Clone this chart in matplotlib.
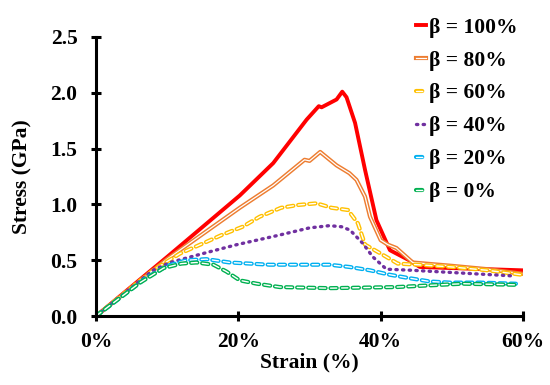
import matplotlib
matplotlib.use("Agg")
import matplotlib.pyplot as plt
import matplotlib.patheffects as pe
from matplotlib.ticker import FuncFormatter

plt.rcParams['font.family'] = ['Liberation Serif', 'DejaVu Serif']
plt.rcParams['font.weight'] = 'bold'

labels = ["β = 100%", "β = 80%", "β = 60%", "β = 40%", "β = 20%", "β = 0%"]
colors = ["#ff0000", "#ed7d31", "#ffc000", "#7030a0", "#00b0f0", "#00b050"]

x100 = [0, 0.10, 0.202, 0.249, 0.296, 0.313, 0.317, 0.338, 0.346, 0.352, 0.364, 0.378, 0.394, 0.413, 0.44, 0.455, 0.50, 0.55, 0.598]
y100 = [0, 0.53, 1.08, 1.37, 1.76, 1.88, 1.87, 1.94, 2.01, 1.96, 1.73, 1.31, 0.86, 0.59, 0.50, 0.44, 0.43, 0.42, 0.41]

x80 = [0, 0.10, 0.202, 0.249, 0.293, 0.300, 0.315, 0.338, 0.356, 0.366, 0.378, 0.385, 0.40, 0.41, 0.422, 0.445, 0.50, 0.55, 0.598]
y80 = [0, 0.51, 0.97, 1.17, 1.40, 1.39, 1.47, 1.35, 1.28, 1.22, 1.07, 0.89, 0.68, 0.64, 0.61, 0.48, 0.45, 0.42, 0.38]

x60 = [0, 0.08, 0.118, 0.15, 0.178, 0.206, 0.23, 0.26, 0.284, 0.31, 0.331, 0.354, 0.368, 0.378, 0.40, 0.424, 0.452, 0.50, 0.55, 0.598]
y60 = [0, 0.41, 0.56, 0.65, 0.73, 0.80, 0.89, 0.97, 0.995, 1.01, 0.97, 0.95, 0.83, 0.64, 0.56, 0.47, 0.46, 0.44, 0.41, 0.37]

x40 = [0, 0.08, 0.104, 0.156, 0.198, 0.254, 0.30, 0.328, 0.345, 0.357, 0.375, 0.389, 0.408, 0.445, 0.515, 0.585]
y40 = [0, 0.41, 0.48, 0.57, 0.64, 0.72, 0.79, 0.81, 0.80, 0.77, 0.65, 0.53, 0.42, 0.41, 0.385, 0.36]

x20 = [0, 0.07, 0.10, 0.127, 0.155, 0.188, 0.244, 0.30, 0.328, 0.356, 0.385, 0.413, 0.44, 0.469, 0.497, 0.54, 0.59]
y20 = [0, 0.34, 0.45, 0.50, 0.51, 0.48, 0.46, 0.46, 0.46, 0.44, 0.41, 0.37, 0.34, 0.31, 0.30, 0.30, 0.29]

x0 = [0, 0.062, 0.095, 0.120, 0.141, 0.165, 0.183, 0.202, 0.226, 0.258, 0.328, 0.422, 0.515, 0.59]
y0 = [0, 0.30, 0.43, 0.47, 0.48, 0.46, 0.40, 0.32, 0.29, 0.26, 0.25, 0.26, 0.29, 0.28]

xs = [x100, x80, x60, x40, x20, x0]
ys = [y100, y80, y60, y40, y20, y0]

fig = plt.figure(figsize=(5.5, 3.85), dpi=100)
ax = fig.add_axes([0.1745, 0.179, 0.7765, 0.725])

handles = []
for i, (x, y) in enumerate(zip(xs, ys)):
    c = colors[i]
    if i == 0:
        h, = ax.plot(x, y, color=c, lw=2.8, solid_joinstyle='round')
    elif i == 1:
        h, = ax.plot(x, y, color='white', lw=0.9,
                     path_effects=[pe.Stroke(linewidth=3.0, foreground=c), pe.Normal()])
    elif i == 3:
        h, = ax.plot(x, y, color=c, lw=2.4, linestyle=(0, (0.4, 1.6)), dash_capstyle='round')
    else:
        h, = ax.plot(x, y, color='white', lw=1.0, linestyle=(0, (4.5, 3.5)), dash_capstyle='round',
                     path_effects=[pe.Stroke(linewidth=3.0, foreground=c, capstyle='round'), pe.Normal()])
    handles.append(h)

ax.set_xlim(0, 0.6)
ax.set_ylim(0, 2.5)
ax.set_xticks([0, 0.2, 0.4, 0.6])
ax.set_yticks([0, 0.5, 1.0, 1.5, 2.0, 2.5])
ax.xaxis.set_major_formatter(FuncFormatter(lambda v, p: f"{v*100:.0f}%"))
ax.yaxis.set_major_formatter(FuncFormatter(lambda v, p: f"{v:.1f}"))
for s in ['top', 'right']:
    ax.spines[s].set_visible(False)
for s in ['left', 'bottom']:
    ax.spines[s].set_linewidth(2.2)
ax.tick_params(direction='inout', length=7.5, width=2.2, labelsize=15.5)
ax.tick_params(axis='x', pad=8)
ax.tick_params(axis='y', pad=9.5)
for t in ax.get_xticklabels() + ax.get_yticklabels():
    t.set_fontweight('bold')
ax.set_xlabel("Strain (%)", fontsize=15.5, fontweight='bold', labelpad=0)
ax.set_ylabel("Stress (GPa)", fontsize=15.5, fontweight='bold', labelpad=13)

leg = fig.legend(handles, labels, loc='upper left', bbox_to_anchor=(0.722, 1.005),
                 frameon=False, handlelength=0.45, handletextpad=0.15, labelspacing=0.6,
                 prop={'family': 'Liberation Serif', 'weight': 'bold', 'size': 15.5})

fig.savefig("out.png", dpi=100)
